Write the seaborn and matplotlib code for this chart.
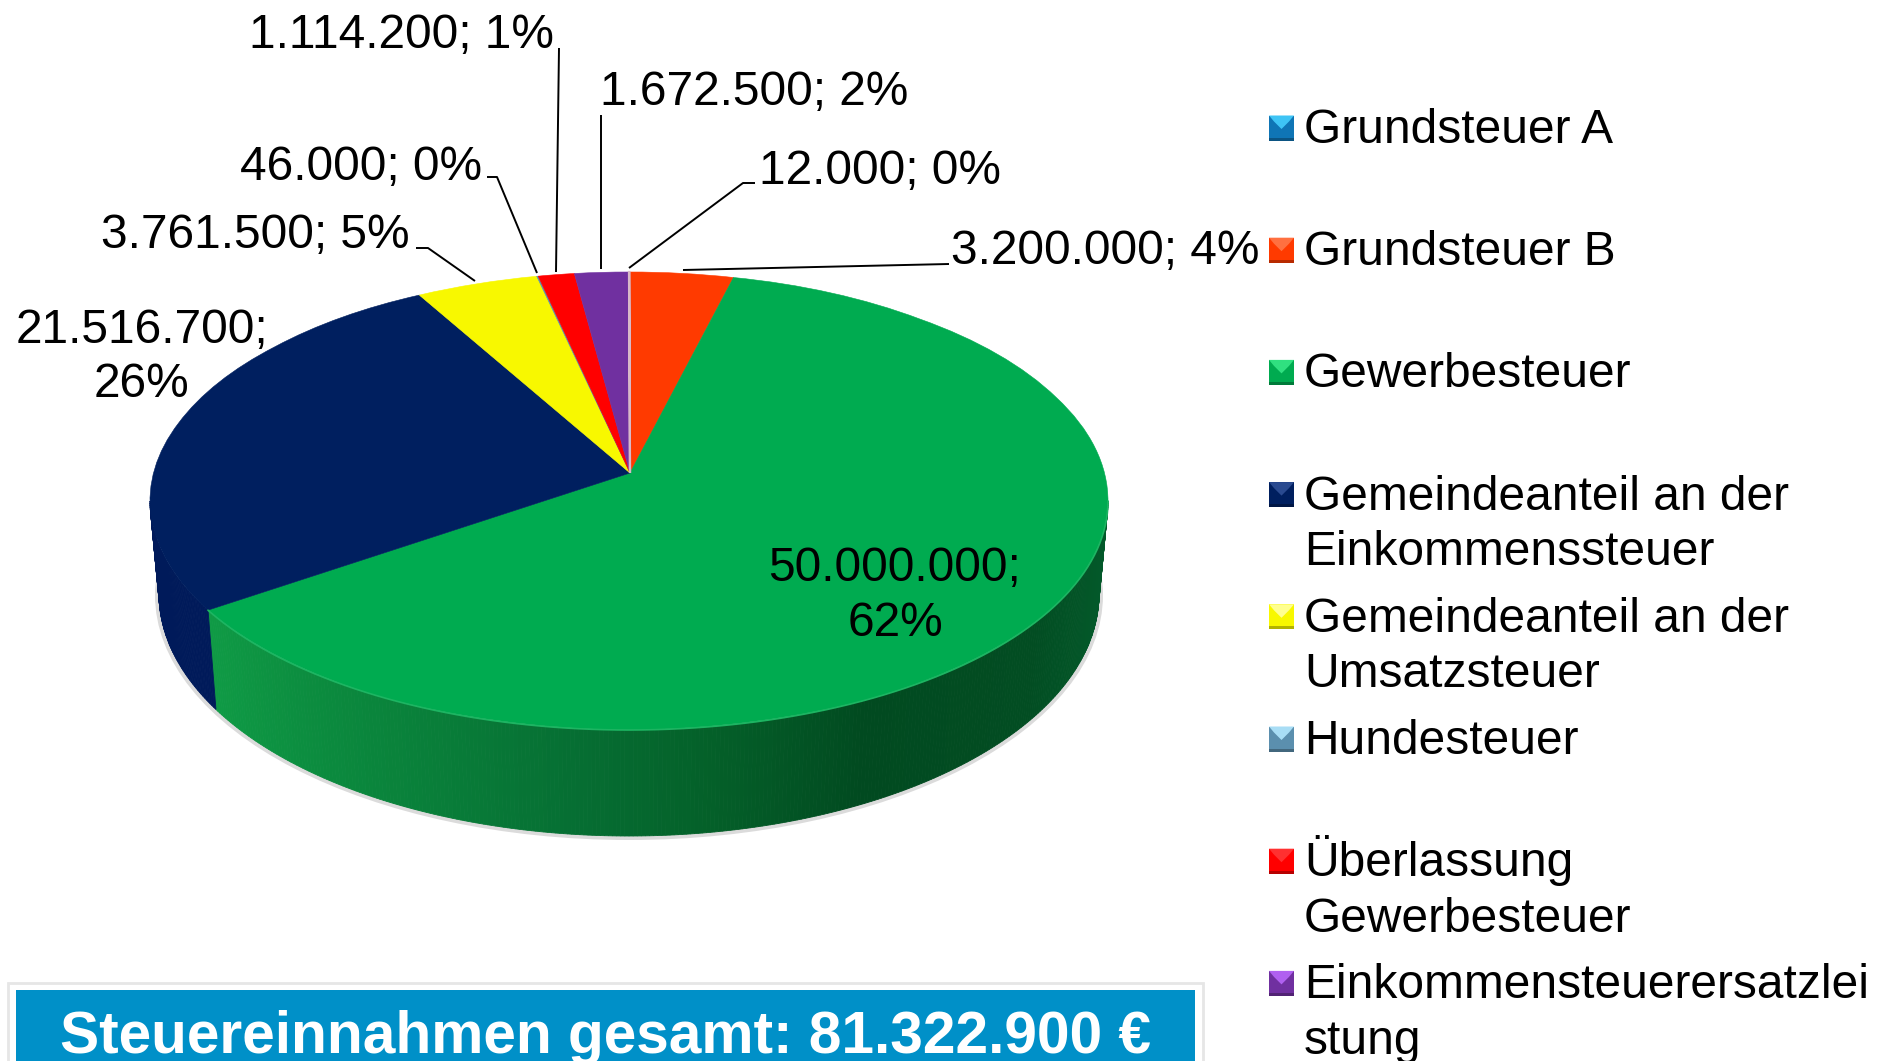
import numpy as np
import matplotlib
matplotlib.use("Agg")
import matplotlib.pyplot as plt
from matplotlib.colors import LinearSegmentedColormap, to_rgb
from matplotlib.patches import Rectangle, PathPatch, Ellipse, Polygon
from matplotlib.path import Path
import seaborn as sns

# ---- data ----
categories = ["Grundsteuer A", "Grundsteuer B", "Gewerbesteuer",
              "Gemeindeanteil an der\nEinkommenssteuer",
              "Gemeindeanteil an der\nUmsatzsteuer", "Hundesteuer",
              "Überlassung\nGewerbesteuer", "Einkommensteuerersatzlei\nstung"]
values = [12000, 3200000, 50000000, 21516700, 3761500, 46000, 1114200, 1672500]
percent_labels = ["0%", "4%", "62%", "26%", "5%", "0%", "1%", "2%"]
slice_colors = ["#0F75B5", "#FF3A00", "#00AB50", "#001F5F", "#F8F800", "#5B8FAE", "#FF0000", "#7030A0"]
key_light = ["#3EC4F5", "#FF7040", "#30E080", "#2A4A90", "#FFFF90", "#A8DDF5", "#FF3030", "#B060F0"]
banner_text = "Steuereinnahmen gesamt: 81.322.900 €"

sns.set_theme(style="white")
plt.rcParams["font.family"] = ["Liberation Sans", "DejaVu Sans"]
palette = sns.color_palette(slice_colors)

W, H = 1887, 1061
fig = plt.figure(figsize=(W / 100, H / 100), dpi=100, facecolor="white")
ax = fig.add_axes([0, 0, 1, 1])

# projection of the tilted disc
CX, CY, RX, RY = 629, 501, 479, 229
AX, AY = 630, 473
BCY, BRX, BRY = 594, 470, 242
K = 0.885  # perspective compression of the rim angle towards the far edge

def persp(theta):
    """Clockwise angle from the top on the true circle -> angle on the drawn ellipse."""
    return 2 * np.arctan2(K * np.sin(theta / 2), np.cos(theta / 2))

def rim(phi):
    return CX + RX * np.sin(phi), CY - RY * np.cos(phi)

def base(phi):
    return CX + BRX * np.sin(phi), BCY - BRY * np.cos(phi)

wedges, _ = ax.pie(values, colors=palette, startangle=90, counterclock=False,
                   radius=1, center=(0, 0), frame=False)

fractions = np.cumsum(values) / np.sum(values)
green_end = persp(2 * np.pi * fractions[2]) % (2 * np.pi)

# soft shadow
ax.add_patch(Ellipse((CX, BCY + 1), 2 * BRX + 8, 2 * BRY + 6, facecolor="#888888",
                     alpha=0.30, edgecolor="none", zorder=1))

# side wall
green_cmap = LinearSegmentedColormap.from_list(
    "wall", [(0.0, "#0F9A45"), (0.13, "#0B8A3E"), (0.40, "#066F33"), (0.56, "#046029"),
             (0.73, "#014A20"), (0.92, "#024D22"), (1.0, "#03592A")])
phis = np.linspace(np.pi / 2, 3 * np.pi / 2, 361)
for t0, t1 in zip(phis[:-1], phis[1:]):
    xa, ya = rim(t0); xb, yb = rim(t1)
    xc, yc = base(t1); xd, yd = base(t0)
    tm = (t0 + t1) / 2
    if tm < green_end:
        xm = rim(tm)[0]
        col = green_cmap(np.clip((xm - 210) / (1108 - 210), 0, 1))
    else:
        col = "#001A5A"
    ax.add_patch(Polygon([(xa, ya), (xb, yb), (xc, yc), (xd, yd)], closed=True, facecolor=col,
                         edgecolor=col, lw=0.6, zorder=2))

# top face: pie wedges warped onto the tilted ellipse with an off-centre apex
for i, w in enumerate(wedges):
    path = w.get_path()
    pts = w.get_patch_transform().transform(path.vertices)
    r = np.hypot(pts[:, 0], pts[:, 1])
    th = np.arctan2(pts[:, 0], pts[:, 1])  # clockwise from the top
    ph = persp(th)
    rc = np.clip(r, 0, 1)
    x = CX + RX * r * np.sin(ph) + (1 - rc) * (AX - CX)
    y = CY - RY * r * np.cos(ph) + (1 - rc) * (AY - CY)
    edge = "#D8B8C8" if i == 0 else palette[i]
    ax.add_patch(PathPatch(Path(np.column_stack([x, y]), path.codes), facecolor=palette[i],
                           edgecolor=edge, lw=1.6 if i == 0 else 0.4, zorder=4 if i == 0 else 3))
    w.remove()

# light front edge of the green slice
front = np.linspace(np.pi / 2, green_end, 200)
fx, fy = rim(front)
ax.plot(fx, fy, color="#1DB562", lw=1.2, zorder=3.5)

ax.set_xlim(0, W)
ax.set_ylim(H, 0)
ax.set_aspect("auto")
ax.axis("off")

# ---- data labels ----
LABEL_FS = 34.5
def fmt(i):
    return f"{values[i]:,}".replace(",", "."), percent_labels[i]

label_pos = {0: (759, 184), 1: (951, 264), 4: (101, 248), 5: (240, 180), 6: (249, 48), 7: (600, 105)}
for i, (lx, ly) in label_pos.items():
    a, b = fmt(i)
    ax.text(lx, ly, f"{a}; {b}", fontsize=LABEL_FS, color="black", ha="left", va="baseline", zorder=6)
a, b = fmt(3)
ax.text(142, 343, a + ";", fontsize=LABEL_FS, ha="center", va="baseline", color="black", zorder=6)
ax.text(142, 397, b, fontsize=LABEL_FS, ha="center", va="baseline", color="black", zorder=6)
a, b = fmt(2)
ax.text(895, 581, a + ";", fontsize=LABEL_FS, ha="center", va="baseline", color="black", zorder=6)
ax.text(895, 636, b, fontsize=LABEL_FS, ha="center", va="baseline", color="black", zorder=6)

# leader lines
leaders = [([559, 556], [48, 272]),
           ([601, 601], [115, 269]),
           ([487, 497, 537], [177, 177, 273]),
           ([416, 428, 475], [248, 248, 281]),
           ([755, 743, 629], [183, 183, 268]),
           ([949, 683], [264, 270])]
for xs, ys in leaders:
    ax.plot(xs, ys, color="black", lw=1.4, zorder=5, solid_capstyle="butt")

# ---- legend ----
KEY_X, KEY_S, TEXT_X = 1269, 25, 1304
for i, name in enumerate(categories):
    yc = 128 + 122.2 * i
    c = palette[i]
    ax.add_patch(Rectangle((KEY_X, yc - KEY_S / 2), KEY_S, KEY_S, facecolor=c, edgecolor="none", zorder=5))
    dark = tuple(0.72 * v for v in to_rgb(c))
    ax.add_patch(Rectangle((KEY_X, yc + KEY_S / 2 - 3), KEY_S, 3, facecolor=dark, edgecolor="none", zorder=5))
    ax.add_patch(Polygon([(KEY_X, yc - KEY_S / 2), (KEY_X + KEY_S, yc - KEY_S / 2),
                          (KEY_X + KEY_S - 5, yc - KEY_S / 2 + 6), (KEY_X + KEY_S / 2, yc + 1),
                          (KEY_X + 5, yc - KEY_S / 2 + 6)], closed=True,
                         facecolor=key_light[i], edgecolor="none", zorder=5.5))
    for j, line in enumerate(name.split("\n")):
        ax.text(TEXT_X, yc + 15 + 55.5 * j, line, fontsize=34.5, color="black",
                ha="left", va="baseline", zorder=6)

# ---- banner ----
ax.add_patch(Rectangle((8, 983), 1195, 90, facecolor="white", edgecolor="#E6E6E6", lw=2, zorder=5))
ax.add_patch(Rectangle((16, 990), 1179, 80, facecolor="#0090C8", edgecolor="none", zorder=5.5))
ax.text(606, 1053, banner_text, fontsize=42.2, fontweight="bold", color="white",
        ha="center", va="baseline", zorder=6)

fig.savefig("out.png", dpi=100)
